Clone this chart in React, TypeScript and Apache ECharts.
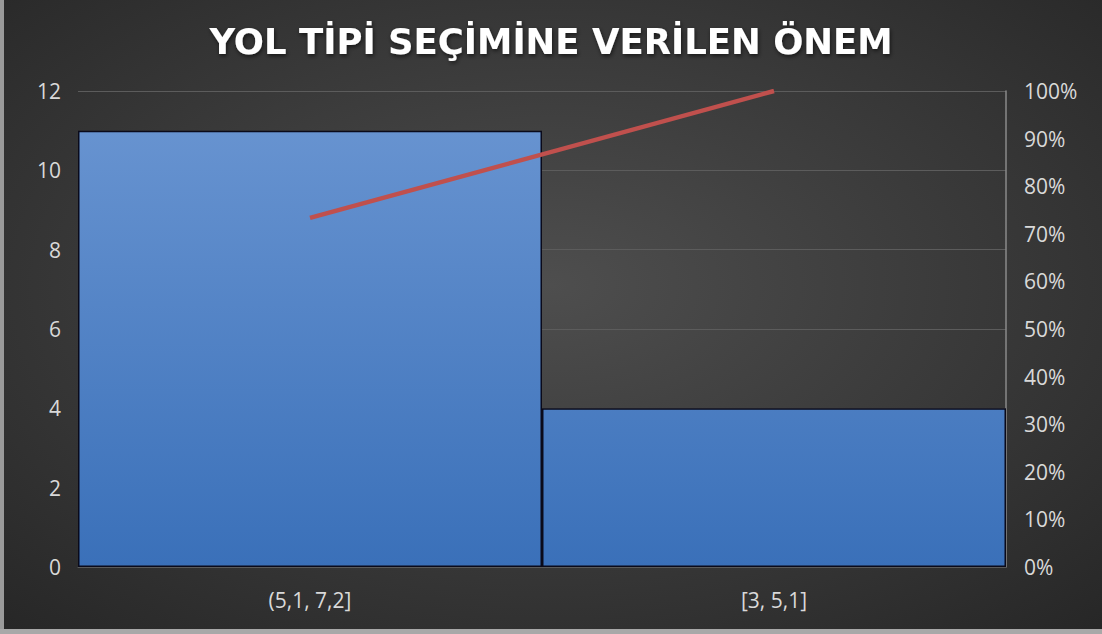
import React, { useEffect, useRef } from "react";
import * as echarts from "echarts";

const titleText = "YOL TİPİ SEÇİMİNE VERİLEN ÖNEM";
const categories = ["(5,1, 7,2]", "[3, 5,1]"];
const counts = [11, 4];
const cumulativePct = [73.33, 100];

export default function App() {
  const ref = useRef<HTMLDivElement>(null);
  useEffect(() => {
    document.body.style.margin = "0";
    const chart = echarts.init(ref.current!, null, { renderer: "svg" });
    const labelFont = { color: "#d9d9d9", fontSize: 21, fontFamily: "Open Sans" };
    chart.setOption({
      animation: false,
      backgroundColor: new echarts.graphic.RadialGradient(0.5, 0.45, 0.75, [
        { offset: 0, color: "#4e4e4e" },
        { offset: 1, color: "#262626" },
      ]),
      title: {
        text: titleText,
        left: "center",
        top: 18,
        textStyle: {
          color: "#ffffff",
          fontSize: 35.5,
          fontWeight: "bold",
          fontFamily: "DejaVu Sans",
          textShadowColor: "rgba(0,0,0,0.6)",
          textShadowBlur: 4,
          textShadowOffsetX: 1,
          textShadowOffsetY: 2,
        },
      },
      graphic: [
        { type: "rect", shape: { x: 0, y: 0, width: 4, height: 634 }, style: { fill: "#9a9a9a" } },
        { type: "rect", shape: { x: 0, y: 629, width: 1102, height: 5 }, style: { fill: "#a8a8a8" } },
      ],
      grid: { left: 78, right: 96, top: 91, bottom: 67 },
      xAxis: {
        type: "category",
        data: categories,
        axisTick: { show: false },
        axisLine: { lineStyle: { color: "#5a5a5a" } },
        axisLabel: { ...labelFont, margin: 22 },
      },
      yAxis: [
        {
          type: "value",
          min: 0,
          max: 12,
          interval: 2,
          axisLine: { show: false },
          axisTick: { show: false },
          splitLine: { lineStyle: { color: "#5c5c5c", width: 1 } },
          axisLabel: { ...labelFont, margin: 17 },
        },
        {
          type: "value",
          min: 0,
          max: 100,
          interval: 10,
          axisLine: { show: true, lineStyle: { color: "#8a8a8a", width: 1.5 } },
          axisTick: { show: false },
          splitLine: { show: false },
          axisLabel: { ...labelFont, margin: 18, formatter: "{value}%" },
        },
      ],
      series: [
        {
          type: "bar",
          data: counts,
          barWidth: "100%",
          barCategoryGap: "0%",
          itemStyle: {
            color: new echarts.graphic.LinearGradient(
              0, 91, 0, 567,
              [
                { offset: 0, color: "#6b96d2" },
                { offset: 1, color: "#3a70b9" },
              ],
              true
            ),
            borderColor: "#0a0a1a",
            borderWidth: 1.5,
          },
          z: 2,
        },
        {
          type: "line",
          yAxisIndex: 1,
          data: cumulativePct,
          symbol: "none",
          lineStyle: { color: "#c0504d", width: 4.5 },
          z: 3,
        },
      ],
    });
    return () => chart.dispose();
  }, []);
  return <div ref={ref} style={{ width: 1102, height: 634 }} />;
}
